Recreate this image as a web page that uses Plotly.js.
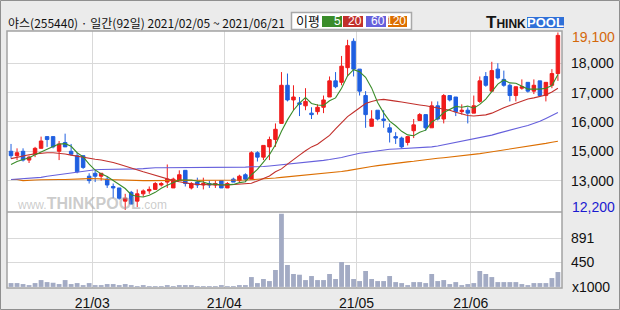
<!DOCTYPE html>
<html><head><meta charset="utf-8">
<script src="https://cdn.plot.ly/plotly-3.0.1.min.js"></script>
<style>html,body{margin:0;padding:0;background:#ebebeb;}#chart{width:620px;height:310px;}</style>
</head><body><div id="chart"></div>
<script>
// ---- data ----
const open=[15000,14850,15000,14700,14900,15100,15500,15500,15000,15300,
15000,14850,14850,14150,14250,14150,14050,13800,13750,13300,
13600,13300,13550,13650,13700,13850,13950,13750,14000,14350,
13750,13950,13850,13900,13850,14000,13750,14050,14000,14200,
14050,14950,14800,15150,15400,15950,17250,16750,16650,16550,
16300,16350,16500,16850,17400,17350,17850,18750,17800,16900,
15850,16400,16100,15800,15500,15450,15300,15700,16050,16250,
15800,16550,16100,16900,16850,16350,16400,16300,16700,17550,
17050,17800,17450,17250,16900,17150,17350,17050,17400,16900,
17250,17650];
const high=[15250,15100,15100,14850,15150,15500,15500,15500,15350,15600,
15250,14950,14850,14250,14350,14250,14150,13900,13750,13550,
13650,13700,13700,13800,13950,13950,14550,14100,14350,14350,
13950,14100,14100,14000,14000,14000,13950,14100,14200,14250,
15000,15000,15200,15500,15950,17700,17650,17250,16850,17150,
16500,16600,16900,17550,17700,18250,18800,18850,17800,17050,
16400,16400,16400,15950,15650,15500,15500,16100,16300,16250,
16700,16700,16950,16900,16850,16600,16500,16900,17550,17700,
18050,18000,17750,17300,17200,17450,17350,17450,17400,17350,
17800,19050];
const low=[14750,14700,14650,14600,14800,15100,15150,15100,14700,15150,
14850,14250,14400,13900,13950,14000,13750,13400,13350,13000,
13200,13100,13450,13550,13700,13800,13750,13750,14000,13800,
13700,13750,13700,13750,13750,13750,13750,13950,13950,13950,
14050,14650,14700,14700,15150,15950,16700,16400,16200,16400,
16100,16250,16300,16850,17150,17250,17550,17550,16900,15800,
15850,16050,15800,15300,15250,15100,15200,15450,16050,15700,
15800,16050,15950,16700,16200,16250,15950,16300,16650,17200,
17050,17450,17200,16700,16700,17100,17000,16950,16850,16700,
17150,17400];
const close=[14850,14950,14700,14800,15100,15350,15400,15150,15250,15150,
14900,14300,14450,14000,14150,14250,13850,13750,13400,13400,
13200,13550,13650,13700,13900,13900,14050,14050,14200,13900,
13900,13850,13900,13850,13900,13750,13900,13950,14150,14050,
14950,14800,15200,15400,15750,17250,16750,16850,16600,16700,
16250,16500,16750,17400,17200,17900,18600,17800,17050,16250,
16100,16100,16050,15650,15450,15150,15500,15900,16250,15800,
16550,16100,16900,16750,16350,16400,16300,16550,17400,17250,
17750,17500,17250,16900,17200,17200,17050,17250,16900,17350,
17650,18950];
const ma5=[14550,14650,14720,14780,14880,14980,15070,15160,15250,15260,
15170,14950,14810,14560,14360,14230,14140,14000,13880,13730,
13520,13460,13440,13500,13600,13740,13840,13920,14020,14020,
14020,13980,13950,13880,13880,13850,13860,13870,13930,13960,
14200,14380,14630,14880,15220,15680,16070,16400,16640,16830,
16630,16580,16560,16720,16820,17150,17570,17780,17710,17520,
17160,16660,16310,16030,15870,15680,15560,15530,15650,15720,
16000,16120,16320,16420,16530,16500,16540,16470,16600,16780,
17050,17290,17430,17330,17320,17210,17120,17120,17120,17150,
17240,17620];
const ma20=[14750,14800,14850,14880,14910,14940,14950,14950,14940,14910,
14870,14830,14790,14760,14730,14700,14670,14620,14560,14490,
14420,14360,14300,14240,14180,14110,14050,14000,13960,13920,
13890,13870,13860,13850,13850,13850,13850,13860,13870,13890,
13910,13990,14080,14160,14300,14400,14560,14730,14870,15020,
15150,15240,15380,15540,15760,15960,16180,16330,16470,16630,
16700,16750,16770,16750,16710,16680,16640,16610,16580,16550,
16510,16480,16450,16400,16330,16270,16220,16200,16210,16240,
16300,16400,16480,16560,16640,16720,16780,16820,16870,16920,
17020,17150];
const ma60=[14040,14050,14060,14070,14090,14110,14150,14180,14210,14240,
14270,14300,14320,14350,14370,14380,14380,14380,14380,14390,
14390,14400,14410,14430,14440,14440,14440,14440,14440,14440,
14440,14440,14440,14440,14440,14440,14440,14440,14450,14460,
14470,14470,14480,14500,14520,14540,14550,14570,14590,14610,
14640,14660,14690,14720,14750,14790,14840,14890,14930,14960,
14990,15020,15050,15070,15080,15090,15100,15100,15110,15130,
15150,15180,15220,15260,15300,15340,15380,15420,15460,15500,
15550,15610,15670,15720,15780,15830,15880,15940,16020,16120,
16230,16320];
const ma120=[14040,14040,14000,14000,14020,14030,14040,14040,14040,14040,
14040,14050,14060,14070,14070,14060,14040,14030,14020,14010,
14000,14000,14000,14000,14000,14000,14000,14000,14000,14000,
14000,14000,14000,14000,14000,14000,14000,14000,14010,14020,
14030,14040,14050,14070,14090,14110,14130,14140,14150,14170,
14200,14220,14240,14260,14290,14310,14340,14380,14420,14450,
14480,14510,14540,14570,14600,14620,14640,14660,14690,14710,
14730,14760,14780,14800,14830,14850,14870,14900,14920,14950,
14980,15010,15040,15070,15100,15130,15160,15200,15230,15270,
15310,15340];
const volume=[70,70,52,33,70,125,88,76,52,125,
52,70,33,70,33,33,52,52,33,52,
33,15,33,15,15,15,33,15,33,33,
33,15,15,15,15,33,15,15,33,33,
180,70,144,107,309,1338,401,236,223,125,
199,125,125,236,144,456,401,144,107,291,
144,107,107,199,88,70,33,88,88,70,
236,107,125,52,88,33,52,70,291,236,
180,88,88,88,88,52,33,70,70,70,
162,272];
const monthStartIdx=[14,36,58,77];
const monthLabels=['21/03','21/04','21/05','21/06'];
const priceTickVals=[18000,17000,16000,15000,14000];
const priceTickText=['18,000','17,000','16,000','15,000','13,000'];
const volTickVals=[450,891];
const volTickText=['450','891'];
const titleText='야스(255440) · 일간(92일) 2021/02/05 ~ 2021/06/21';
const maxLabel='19,100', minLabel='12,200', volUnit='x1000';
const maNames=['5','20','60','120'];

// ---- drawing ----
const idx=close.map((_,i)=>i);
const C={green:'#3a8c2a',red:'#c2302c',purple:'#6660dc',orange:'#dc6e00',up:'#f01c1c',down:'#1f5fe0',vol:'#a3abc4',grid:'#d9d9d9',frame:'#a3a3a3'};
const numFont='Liberation Sans Narrow, Liberation Sans, Arial, sans-serif';
const PL=7,PR=562,PT=31,PB=288;
const fx=px=>(px-PL)/(PR-PL);
const fy=py=>(PB-py)/(PB-PT);
const split=fy(212);

function ma(y,color){return {type:'scatter',mode:'lines',x:idx,y:y,xaxis:'x',yaxis:'y',line:{color:color,width:1.1},hoverinfo:'skip'};}
const traces=[
 ma(ma120,C.orange),ma(ma60,C.purple),ma(ma20,C.red),ma(ma5,C.green),
 {type:'candlestick',x:idx,open:open,high:high,low:low,close:close,xaxis:'x',yaxis:'y',whiskerwidth:0,
  increasing:{line:{color:C.up,width:1},fillcolor:C.up},decreasing:{line:{color:C.down,width:1},fillcolor:C.down},hoverinfo:'skip'},
 {type:'bar',x:idx,y:volume,xaxis:'x2',yaxis:'y2',width:0.8,marker:{color:C.vol,line:{width:0}},hoverinfo:'skip'}
];
const xr=[-0.67,91.68];
const xt=monthStartIdx.map(i=>i-0.5);
const shapes=[
 {type:'rect',xref:'paper',yref:'paper',x0:fx(0.5),x1:fx(619.5),y0:fy(309.5),y1:fy(0.5),line:{color:'#8f8f8f',width:1},layer:'below'},
 {type:'rect',xref:'paper',yref:'paper',x0:0,x1:1,y0:0,y1:1,line:{color:C.frame,width:1.5}},
 {type:'line',xref:'paper',yref:'paper',x0:0,x1:1,y0:split,y1:split,line:{color:C.frame,width:1.5}},
 {type:'rect',xref:'paper',yref:'paper',x0:fx(291.5),x1:fx(411.5),y0:fy(29.5),y1:fy(12.5),fillcolor:'#ffffff',line:{color:'#a8a8a8',width:1.5}},
 {type:'rect',xref:'paper',yref:'paper',x0:fx(527),x1:fx(564),y0:fy(28),y1:fy(17),fillcolor:'#2f70d8',line:{width:0}}
];
const boxes=[[322,342,C.green],[343,363,C.red],[366,386,C.purple],[388,407,C.orange]];
const ann=[
 {xref:'paper',yref:'paper',x:fx(6),y:fy(22.5),xanchor:'left',yanchor:'middle',showarrow:false,text:titleText,font:{family:'Noto Sans CJK KR',size:12,color:'#111'}},
 {xref:'paper',yref:'paper',x:fx(307.5),y:fy(21),xanchor:'center',yanchor:'middle',showarrow:false,text:'이평',font:{family:'Noto Sans CJK KR',size:13,color:'#111'}},
 {xref:'paper',yref:'paper',x:fx(528),y:fy(22.5),xanchor:'right',yanchor:'middle',showarrow:false,text:'<b>T<span style="font-size:12px">HINK</span></b>',font:{family:'Liberation Sans, Arial',size:17,color:'#141414'}},
 {xref:'paper',yref:'paper',x:fx(545.5),y:fy(22.5),xanchor:'center',yanchor:'middle',showarrow:false,text:'<b>POOL</b>',font:{family:'Liberation Sans, Arial',size:13,color:'#ffffff'}},
 {xref:'paper',yref:'paper',x:fx(92),y:fy(203),xanchor:'center',yanchor:'middle',showarrow:false,text:'www.<b><span style="font-size:16px">THINKPOOL</span></b>.com',font:{family:'Liberation Sans, Arial',size:12,color:'rgba(160,160,160,0.55)'}},
 {xref:'paper',yref:'paper',x:1,xshift:8,y:fy(37),xanchor:'left',yanchor:'middle',showarrow:false,text:maxLabel,font:{family:numFont,size:14,color:'#d4680a'}},
 {xref:'paper',yref:'paper',x:1,xshift:8,y:fy(207),xanchor:'left',yanchor:'middle',showarrow:false,text:minLabel,font:{family:numFont,size:14,color:'#1a1ad0'}},
 {xref:'paper',yref:'paper',x:1,xshift:8,y:fy(286.5),xanchor:'left',yanchor:'middle',showarrow:false,text:volUnit,font:{family:numFont,size:14,color:'#111'}}
];
boxes.forEach((b,k)=>{
 shapes.push({type:'rect',xref:'paper',yref:'paper',x0:fx(b[0]),x1:fx(b[1]),y0:fy(27),y1:fy(16),fillcolor:b[2],line:{width:0}});
 ann.push({xref:'paper',yref:'paper',x:fx(b[1]),xshift:0,y:fy(21.5),xanchor:'right',yanchor:'middle',showarrow:false,borderpad:0,text:maNames[k],font:{family:'Liberation Sans, Arial',size:12,color:'#ffffff'}});
});
const axFont={family:numFont,size:14,color:'#111'};
const layout={
 width:620,height:310,margin:{l:PL,r:620-PR,t:PT,b:310-PB,pad:0},
 paper_bgcolor:'#ebebeb',plot_bgcolor:'#ffffff',showlegend:false,boxgap:0.17,hovermode:false,
 font:{family:'Noto Sans CJK KR, sans-serif',size:12,color:'#111'},
 xaxis:{domain:[0,1],anchor:'y',range:xr,tickvals:xt,showticklabels:false,showgrid:true,gridcolor:C.grid,zeroline:false,ticks:'',rangeslider:{visible:false},fixedrange:true},
 xaxis2:{domain:[0,1],anchor:'y2',range:xr,tickvals:xt,ticktext:monthLabels,showgrid:true,gridcolor:C.grid,zeroline:false,ticks:'',tickfont:axFont,ticklabelstandoff:5,fixedrange:true},
 yaxis:{domain:[split,1],anchor:'x',side:'right',range:[12930,19100],tickvals:priceTickVals,ticktext:priceTickText,showgrid:true,gridcolor:C.grid,zeroline:false,ticks:'',tickfont:axFont,ticklabelstandoff:8,fixedrange:true},
 yaxis2:{domain:[0,split],anchor:'x2',side:'right',range:[-20,1370],tickvals:volTickVals,ticktext:volTickText,showgrid:true,gridcolor:C.grid,zeroline:false,ticks:'',tickfont:axFont,ticklabelstandoff:8,fixedrange:true},
 shapes:shapes,annotations:ann
};
Plotly.newPlot('chart',traces,layout,{staticPlot:true,displayModeBar:false});
</script></body></html>
